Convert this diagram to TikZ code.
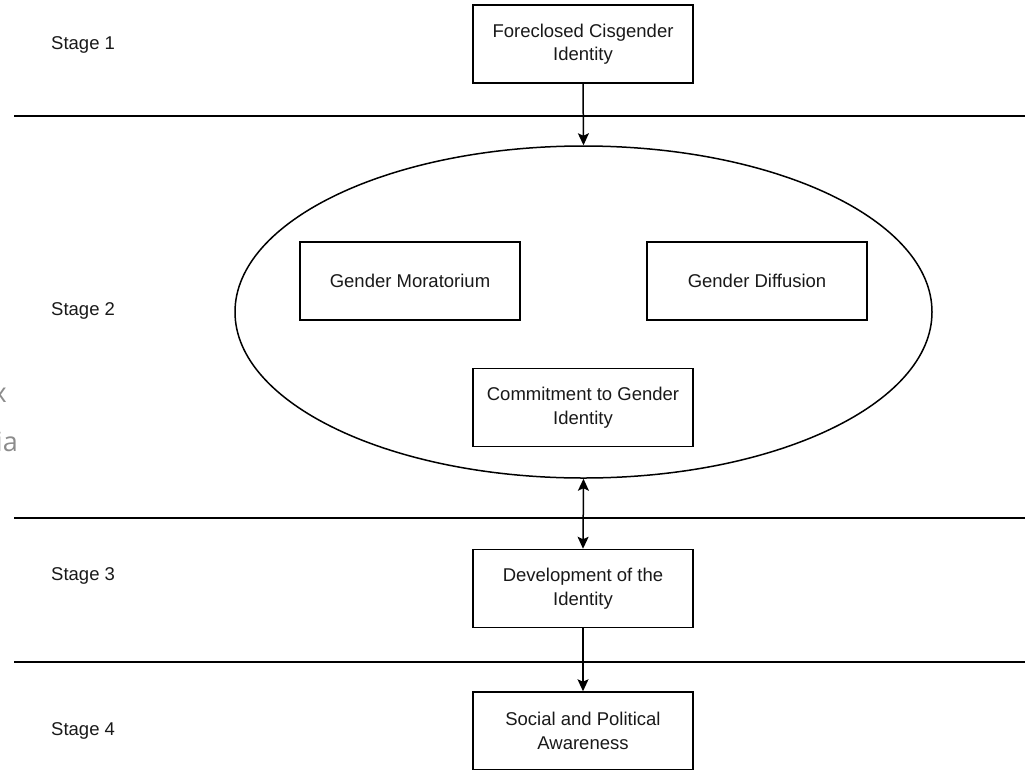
\documentclass[tikz,border=0pt]{standalone}
\usepackage{fontspec}
\setmainfont{Liberation Sans}
\newfontfamily\faintfont{Open Sans}
\usetikzlibrary{shapes.geometric,arrows.meta}
\begin{document}
\begin{tikzpicture}[x=1pt,y=-1pt,
  boxtext/.style={font=\fontsize{18.5}{23.5}\selectfont, text=black!90},
  idbox/.style={draw, line width=1.5pt, minimum width=220pt, minimum height=78pt,
                inner sep=0pt, align=center, boxtext},
  phase/.style={draw, ellipse, line width=1.5pt, minimum width=697pt,
                minimum height=332pt, inner sep=0pt},
  stagelabel/.style={anchor=west, inner sep=0pt, boxtext},
  divider/.style={line width=2.6pt},
  flow/.style={line width=1.5pt, -{Stealth[length=12pt,width=11pt,inset=2.5pt]}},
  bothflow/.style={line width=1.5pt, {Stealth[length=12pt,width=11pt,inset=2.5pt]}-{Stealth[length=12pt,width=11pt,inset=2.5pt]}},
  fragment/.style={anchor=base east, inner sep=0pt, text=black!45,
                   font=\faintfont\fontsize{27}{27}\selectfont}
]
\useasboundingbox (0,0) rectangle (1025,769);
\clip (0,0) rectangle (1025,769);

% stage dividers
\coordinate (d1a) at (14,116);   \coordinate (d1b) at (1030,116);
\coordinate (d2a) at (14,518);   \coordinate (d2b) at (1030,518);
\coordinate (d3a) at (14,662);   \coordinate (d3b) at (1030,662);
\draw[divider] (d1a) -- (d1b);
\draw[divider] (d2a) -- (d2b);
\draw[divider] (d3a) -- (d3b);

% stage labels
\node[stagelabel] (s1) at (51,45)  {Stage 1};
\node[stagelabel] (s2) at (51,311) {Stage 2};
\node[stagelabel] (s3) at (51,576) {Stage 3};
\node[stagelabel] (s4) at (51,731) {Stage 4};

% faint partial text at the left edge
\node[fragment] (fx)  at (7,402)  {x};
\node[fragment] (fia) at (18,451) {ia};

% identity stages
\node[idbox] (fore) at (583,44) {Foreclosed Cisgender\\Identity};
\node[phase] (oval) at (583.5,312) {};
\node[idbox] (mora) at (410,281) {Gender Moratorium};
\node[idbox] (diff) at (757,281) {Gender Diffusion};
\node[idbox] (comm) at (583,407.5) {Commitment to Gender\\Identity};
\node[idbox] (dev)  at (583,588.5) {Development of the\\Identity};
\node[idbox] (soc)  at (583,731) {Social and Political\\Awareness};

% transitions
\draw[flow] (fore.south) -- (oval.north);
\draw[bothflow] (oval.south) -- (dev.north);
\draw[flow] (dev.south) -- (soc.north);
\end{tikzpicture}
\end{document}
